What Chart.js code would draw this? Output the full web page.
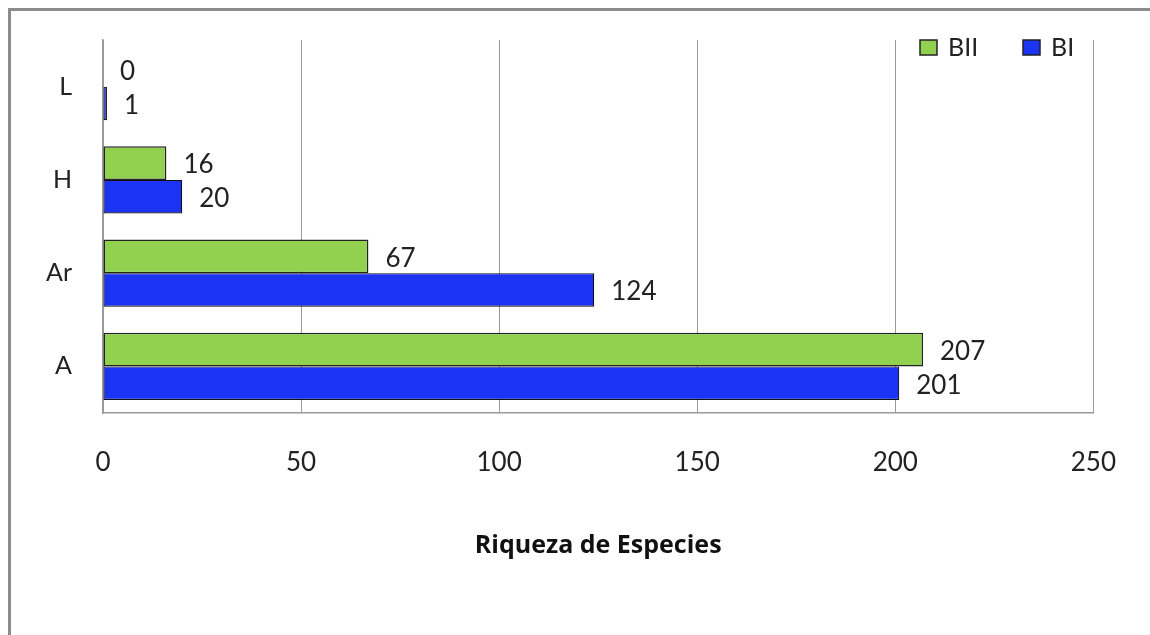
<!DOCTYPE html>
<html>
<head>
<meta charset="utf-8">
<script src="https://cdn.jsdelivr.net/npm/chart.js@4"></script>
<style>
  body { margin: 0; background: #fff; }
  #wrap { width: 1150px; height: 635px; position: relative; }
</style>
</head>
<body>
<div id="wrap"><canvas id="riqueza"></canvas></div>
<script>
// Riqueza de especies por grupo (BII / BI)
const categories = ['L', 'H', 'Ar', 'A'];
const seriesNames = ['BII', 'BI'];
const valuesBII = [0, 16, 67, 207];
const valuesBI = [1, 20, 124, 201];
const xTickValues = [0, 50, 100, 150, 200, 250];

const COLOR_BII = '#92d050';
const COLOR_BI = '#1b34f3';
const FONT = 'Lato, "Open Sans", sans-serif';

// marco exterior (solo arriba e izquierda quedan dentro del lienzo)
const framePlugin = {
    id: 'frame',
    beforeDraw(chart) {
        const c = chart.ctx;
        c.save();
        c.strokeStyle = '#8c8c8c';
        c.lineWidth = 3;
        c.beginPath();
        c.moveTo(9.5, chart.height + 5);
        c.lineTo(9.5, 9.5);
        c.lineTo(chart.width + 5, 9.5);
        c.stroke();
        c.restore();
    }
};

// etiquetas de valor al final de cada barra
const valueLabels = {
    id: 'valueLabels',
    afterDatasetsDraw(chart) {
        const c = chart.ctx;
        c.save();
        c.font = '26px ' + FONT;
        c.fillStyle = '#222';
        c.textAlign = 'left';
        c.textBaseline = 'middle';
        chart.data.datasets.forEach((ds, di) => {
            chart.getDatasetMeta(di).data.forEach((bar, i) => {
                c.fillText(String(ds.data[i]), bar.x + 17, bar.y + 2);
            });
        });
        c.restore();
    }
};

// leyenda dentro del área del gráfico, arriba a la derecha
const insideLegend = {
    id: 'insideLegend',
    afterDraw(chart) {
        const c = chart.ctx;
        const spots = [920, 1023];
        c.save();
        c.font = '25px ' + FONT;
        c.textAlign = 'left';
        c.textBaseline = 'middle';
        chart.data.datasets.forEach((ds, di) => {
            const x = spots[di];
            c.fillStyle = ds.backgroundColor;
            c.fillRect(x, 40, 17, 15);
            c.strokeStyle = '#222';
            c.lineWidth = 1.5;
            c.strokeRect(x, 40, 17, 15);
            c.fillStyle = '#222';
            c.fillText(ds.label, x + 28, 48);
        });
        c.restore();
    }
};

new Chart(document.getElementById('riqueza'), {
    type: 'bar',
    data: {
        labels: categories,
        datasets: [
            { label: seriesNames[0], data: valuesBII, backgroundColor: COLOR_BII, borderColor: '#222', borderWidth: 1.5, borderSkipped: false },
            { label: seriesNames[1], data: valuesBI, backgroundColor: COLOR_BI, borderColor: '#111', borderWidth: 1.2, borderSkipped: false }
        ]
    },
    options: {
        indexAxis: 'y',
        responsive: true, maintainAspectRatio: false,
        animation: false,
        categoryPercentage: 0.72,
        barPercentage: 1.0,
        layout: { padding: { top: 40, right: 55, left: 0, bottom: 0 } },
        plugins: { legend: { display: false }, tooltip: { enabled: false } },
        scales: {
            x: {
                min: 0, max: 250,
                afterBuildTicks: s => { s.ticks = xTickValues.map(v => ({ value: v })); },
                afterFit: s => { s.height = 222; },
                grid: { color: '#9a9a9a', lineWidth: 1, drawTicks: false },
                border: { display: true, color: '#9a9a9a', width: 1.5 },
                ticks: { color: '#222', padding: 34, font: { family: FONT, size: 26 } },
                title: {
                    display: true, text: 'Riqueza de Especies', color: '#111',
                    font: { family: '"Open Sans", sans-serif', size: 25, weight: 'bold' },
                    padding: { top: 0, bottom: 74 }
                }
            },
            y: {
                afterFit: s => { s.width = 103; s.paddingTop = 0; s.paddingBottom = 0; },
                grid: { display: false, drawTicks: false },
                border: { display: true, color: '#9a9a9a', width: 1.5 },
                ticks: { color: '#222', padding: 31, font: { family: FONT, size: 25 } }
            }
        }
    },
    plugins: [framePlugin, valueLabels, insideLegend]
});
</script>
</body>
</html>
